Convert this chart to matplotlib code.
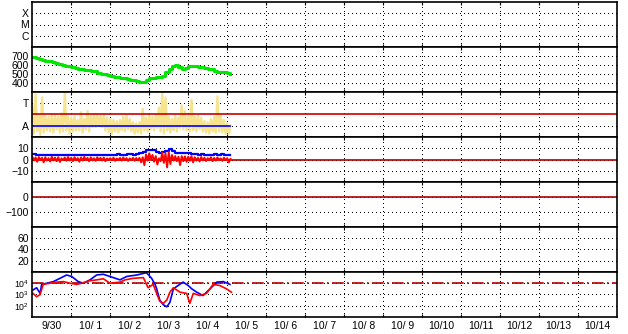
import numpy as np
import matplotlib
matplotlib.use('Agg')
import matplotlib.pyplot as plt

plt.rcParams['font.family'] = ['Liberation Sans', 'DejaVu Sans']
plt.rcParams['font.size'] = 7.5
plt.rcParams['mathtext.default'] = 'regular'

# ---------------- data ----------------
day_labels = ['9/30', '10/ 1', '10/ 2', '10/ 3', '10/ 4', '10/ 5', '10/ 6', '10/ 7',
              '10/ 8', '10/ 9', '10/10', '10/11', '10/12', '10/13', '10/14']

# panel 1 categories
flag_labels = ['C', 'M', 'X']
# panel 3 categories
level_labels = ['A', 'T']

# green series, every 2 hours from 9/30 00:00
green_vals = [685, 675, 665, 660, 645, 640, 630, 620, 610, 600, 592, 585,
              578, 570, 560, 550, 545, 540, 535, 528, 515, 505, 495, 485,
              475, 468, 462, 458, 450, 445, 438, 430, 420, 412, 415, 430,
              450, 460, 468, 472, 480, 520, 550, 585, 598, 580, 560, 570,
              590, 592, 585, 582, 575, 565, 560, 550, 530, 525, 522, 522,
              512, 500]

# yellow series, hourly
yellow_vals = [2.8, 0.3, 3.8, 0.5, 1.9, 0.2, 3.5, 0.4, 1.9, 0.6, 1.8, 0.5,
               2.0, 0.4, 1.9, 0.7, 1.8, 0.4, 2.1, 0.5, 3.9, 0.6, 1.8, 0.3,
               1.7, 0.5, 1.8, 0.6, 1.5, 0.6, 2.2, 0.4, 1.6, 0.7, 2.3, 0.5,
               1.9, 0.9, 2.0, 0.9, 2.0, 1.0, 1.9, 0.9, 2.0, 0.6, 1.7, 0.4,
               1.6, 0.3, 1.5, 0.5, 1.4, 0.4, 1.5, 0.6, 1.8, 0.5, 1.9, 0.7,
               1.6, 0.5, 1.3, 0.3, 1.2, 0.4, 1.3, 0.3, 2.5, 0.6, 1.7, 0.5,
               2.0, 0.7, 1.8, 0.6, 2.0, 0.8, 2.6, 0.5, 3.9, 0.3, 3.5, 0.6,
               1.8, 0.4, 1.6, 0.6, 1.9, 0.5, 1.7, 0.8, 2.8, 0.7, 2.3, 0.6,
               1.9, 0.5, 3.3, 0.6, 1.8, 0.5, 1.9, 0.7, 1.7, 0.5, 1.4, 0.4,
               1.3, 0.3, 1.6, 0.5, 1.8, 0.4, 3.6, 0.5, 2.0, 0.4, 1.5, 0.3,
               1.2, 0.3, 1.0]

# panel 4 blue, every 2 hours
comp_blue = [4.5, 4.2, 4.0, 4.3, 3.9, 4.1, 4.4, 4.0, 3.8, 4.2, 4.0, 3.9,
             4.1, 3.8, 3.7, 4.0, 3.9, 3.6, 3.8, 3.7, 4.0, 3.9, 4.1, 4.0,
             4.3, 4.2, 4.5, 4.4, 4.2, 4.6, 4.5, 4.3, 4.8, 5.5, 7.0, 8.2,
             8.8, 8.5, 6.5, 5.5, 7.0, 8.0, 9.0, 7.5, 6.0, 5.5, 5.8, 5.5,
             5.6, 4.8, 4.5, 4.2, 4.6, 4.3, 4.0, 4.4, 4.5, 4.2, 4.6, 4.3,
             4.0, 4.2]

# panel 4 red, hourly
comp_red = [2.5, -1.0, 1.8, -2.0, 2.2, -0.5, 1.5, -2.5, 2.0, -1.0, 1.2, -1.8,
            2.4, -0.8, 1.6, -1.5, 2.0, -2.2, 1.0, -0.6, 1.8, -1.2, 2.2, -0.9,
            1.5, -1.4, 2.0, -0.7, 1.2, -2.0, 1.8, -1.0, 2.3, -0.5, 1.4, -1.6,
            1.9, -0.8, 1.1, -1.2, 2.0, -0.6, 1.5, -1.0, 1.7, -1.5, 1.0, -0.4,
            1.2, -0.8, 1.6, -1.2, 0.9, -0.5, 1.4, -1.0, 1.8, -0.6, 1.2, -1.3,
            1.0, -0.7, 1.5, -1.1, 1.3, -0.9, 1.5, -2.5, 2.0, -5.0, 4.5, -1.0,
            5.5, 0.5, 4.0, -2.0, 3.0, -4.5, 1.0, -1.5, 6.0, -3.0, 5.5, -7.0,
            6.5, -4.0, 4.0, -1.0, 3.0, -1.5, 2.5, -5.0, 3.0, -1.5, 2.8, -2.0,
            2.5, -1.2, 3.0, -2.5, 2.0, -1.0, 1.5, -1.8, 2.2, -0.8, 1.6, -1.4,
            1.2, -0.6, 2.0, -1.5, 1.4, -1.0, 1.8, -0.5, 1.0, -1.2, 1.6, -0.7,
            1.2, -2.5, 0.5]

# panel 7 (log) series: time in days since 9/30 00:00
flux_blue_t = [0.02, 0.11, 0.20, 0.24, 0.37, 0.54, 0.71, 0.88, 1.01, 1.18, 1.31,
               1.48, 1.65, 1.82, 1.99, 2.25, 2.42, 2.68, 2.93, 3.06, 3.15, 3.19,
               3.27, 3.36, 3.45, 3.53, 3.62, 3.74, 3.87, 4.00, 4.09, 4.22, 4.38,
               4.56, 4.73, 4.90, 5.07]
flux_blue = [2500, 4000, 1260, 7900, 10000, 14000, 27500, 54000, 40000, 14000,
             10000, 20000, 54000, 63000, 40000, 20000, 40000, 54000, 87000,
             27500, 7900, 3200, 320, 125, 80, 200, 3200, 6300, 12600, 6300,
             3200, 1600, 800, 3200, 12600, 14000, 7900]
flux_red_t = [0.02, 0.11, 0.20, 0.28, 0.45, 0.63, 0.80, 0.97, 1.14, 1.27, 1.44,
              1.65, 1.82, 1.91, 1.99, 2.25, 2.38, 2.59, 2.85, 2.97, 3.10, 3.19,
              3.27, 3.36, 3.45, 3.53, 3.62, 3.79, 3.96, 4.04, 4.13, 4.30, 4.47,
              4.64, 4.81, 4.98, 5.11]
flux_red = [1260, 630, 1000, 7900, 10000, 12600, 14000, 10000, 7900, 10000,
            15800, 20000, 25000, 15800, 10000, 12600, 20000, 27500, 31600, 4000,
            7900, 1260, 250, 160, 320, 1600, 4000, 1600, 1260, 160, 1260, 800,
            1260, 7900, 6300, 3200, 1600]

# ---------------- figure ----------------
fig = plt.figure(figsize=(6.28, 3.34), dpi=100)
fig.patch.set_facecolor('white')
left, right = 32.3 / 628, 617 / 628
top, bottom = 1 - 2 / 334, 1 - 317 / 334
n = 7
h = (top - bottom) / n
axes = []
for i in range(n):
    ax = fig.add_axes([left, top - (i + 1) * h, right - left, h])
    axes.append(ax)

ndays = len(day_labels)
dot = (0, (1, 3))
gridkw = dict(color='black', linestyle=dot, linewidth=0.72, antialiased=False)

t_green = np.arange(len(green_vals)) / 12
t_yellow = np.arange(len(yellow_vals)) / 24
t_blue = np.arange(len(comp_blue)) / 12
t_red = np.arange(len(comp_red)) / 24

darkred = '#B00000'

for i, ax in enumerate(axes):
    ax.set_xlim(0, ndays)
    ax.set_xticks(np.arange(1, ndays))
    ax.set_xticks(np.arange(ndays) + 0.5, minor=True)
    ax.tick_params(axis='x', which='major', direction='in', length=2,
                   top=True, bottom=True, labelbottom=False, width=0.8)
    ax.tick_params(axis='x', which='minor', length=0, labelbottom=False, pad=3)
    ax.tick_params(axis='y', which='both', length=0, pad=2.5)
    ax.grid(True, axis='x', which='major', **gridkw)
    ax.grid(True, axis='y', which='major', **gridkw)
    ax.set_axisbelow(True)
    for s in ax.spines.values():
        s.set_linewidth(1.2)
        s.set_color('black')

# panel 1
ax = axes[0]
ax.set_ylim(0, 4)
ax.set_yticks([1, 2, 3])
ax.set_yticklabels(flag_labels)

# panel 2
ax = axes[1]
ax.set_ylim(300, 800)
ax.set_yticks([400, 500, 600, 700])
ax.plot(t_green, green_vals, color='#00E600', lw=2.2, drawstyle='steps-post')

# panel 3
ax = axes[2]
ax.set_ylim(0, 4)
ax.set_yticks([1, 3])
ax.set_yticklabels(level_labels)
ax.plot(t_yellow, yellow_vals, color='#F7E38E', lw=1.7)
ax.axhline(2, color='#C80000', lw=1.2)
ax.plot([t_yellow[0], t_yellow[-1]], [1, 1], color='#0000FF', lw=1.2)

# panel 4
ax = axes[3]
ax.set_ylim(-20, 20)
ax.set_yticks([-10, 0, 10])
ax.axhline(0, color=darkred, lw=1.2)
ax.plot(t_blue, comp_blue, color='#0000FF', lw=1.6, drawstyle='steps-post')
ax.plot(t_red, comp_red, color='#FF0000', lw=1.4)

# panel 5
ax = axes[4]
ax.set_ylim(-200, 100)
ax.set_yticks([-100, 0])
ax.axhline(0, color=darkred, lw=1.2)

# panel 6
ax = axes[5]
ax.set_ylim(0, 80)
ax.set_yticks([20, 40, 60])

# panel 7
ax = axes[6]
ax.set_yscale('log')
ax.set_ylim(10, 1e5)
ax.set_yticks([1e2, 1e3, 1e4])
ax.yaxis.set_minor_locator(matplotlib.ticker.NullLocator())
ax.set_yticklabels([r'$10^{2}$', r'$10^{3}$', r'$10^{4}$'], fontsize=6.3)
ax.axhline(1e4, color=darkred, lw=1.2, linestyle=(0, (7, 2, 1, 2)))
ax.plot(flux_blue_t, flux_blue, color='#0000FF', lw=1.2)
ax.plot(flux_red_t, flux_red, color='#FF0000', lw=1.2)
ax.tick_params(axis='x', which='minor', labelbottom=True)
ax.set_xticklabels(day_labels, minor=True)

fig.savefig('out.png', dpi=100, facecolor='white')
